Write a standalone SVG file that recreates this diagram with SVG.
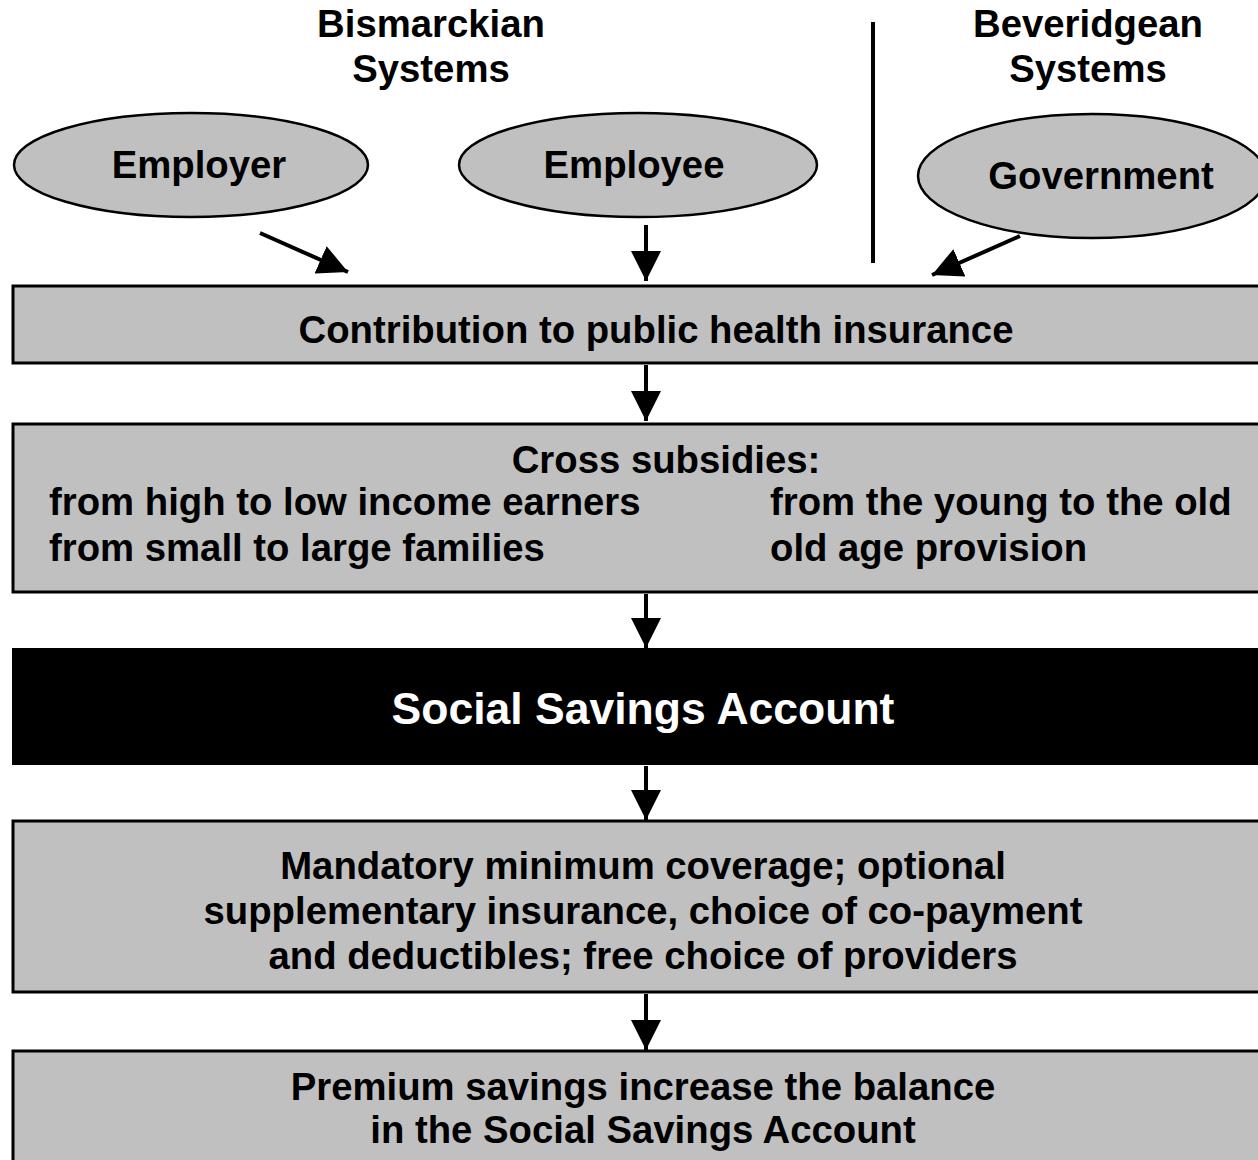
<svg xmlns="http://www.w3.org/2000/svg" width="1258" height="1160" viewBox="0 0 1258 1160">
<defs>
<style>
text{font-family:"Liberation Sans",Arial,sans-serif;font-weight:bold;font-size:38.3px;fill:#000}
.c{text-anchor:middle}
.box{fill:#c0c0c0;stroke:#000;stroke-width:3}
.ell{fill:#c0c0c0;stroke:#000;stroke-width:2.5}
.w{fill:#fff}
.ln{stroke:#000;stroke-width:4;fill:none}
</style>
<marker id="ah" viewBox="0 0 10 10" refX="10" refY="5" markerWidth="7.5" markerHeight="7.8" orient="auto" markerUnits="strokeWidth">
<path d="M0,0 L10,5 L0,10 Z" fill="#000"/>
</marker>
</defs>
<rect width="1258" height="1160" fill="#fff"/>
<g id="headers">
<text class="c" x="431" y="37">Bismarckian</text>
<text class="c" x="431" y="82">Systems</text>
<text class="c" x="1088" y="37">Beveridgean</text>
<text class="c" x="1088" y="82">Systems</text>
</g>
<g id="employer"><ellipse class="ell" cx="191" cy="165" rx="177" ry="52"/><text class="c" x="199" y="178">Employer</text></g>
<g id="employee"><ellipse class="ell" cx="638" cy="165" rx="179" ry="52"/><text class="c" x="634" y="178">Employee</text></g>
<g id="government"><ellipse class="ell" cx="1092" cy="176" rx="174" ry="62"/><text class="c" x="1101" y="189">Government</text></g>
<g id="contribution"><rect class="box" x="13" y="286" width="1260" height="77"/><text class="c" x="656" y="343">Contribution to public health insurance</text></g>
<g id="cross"><rect class="box" x="13" y="424" width="1260" height="168"/>
<text class="c" x="666" y="473">Cross subsidies:</text>
<text x="49" y="515">from high to low income earners</text>
<text x="49" y="561">from small to large families</text>
<text x="770" y="515">from the young to the old</text>
<text x="770" y="561">old age provision</text>
</g>
<g id="ssa"><rect x="12" y="648" width="1260" height="117" fill="#000"/><text class="c w" x="643" y="724" style="font-size:44.5px">Social Savings Account</text></g>
<g id="coverage"><rect class="box" x="13" y="821" width="1260" height="171"/>
<text class="c" x="643" y="879">Mandatory minimum coverage; optional</text>
<text class="c" x="643" y="924">supplementary insurance, choice of co-payment</text>
<text class="c" x="643" y="969">and deductibles; free choice of providers</text>
</g>
<g id="premium"><rect class="box" x="13" y="1051" width="1260" height="120"/>
<text class="c" x="643" y="1100">Premium savings increase the balance</text>
<text class="c" x="643" y="1143">in the Social Savings Account</text>
</g>
<g id="connectors">
<line class="ln" x1="873" y1="22" x2="873" y2="263"/>
<line class="ln" x1="260" y1="233" x2="348" y2="272" marker-end="url(#ah)"/>
<line class="ln" x1="646" y1="225" x2="646" y2="281" marker-end="url(#ah)"/>
<line class="ln" x1="1020" y1="236" x2="932" y2="275" marker-end="url(#ah)"/>
<line class="ln" x1="646" y1="365" x2="646" y2="421" marker-end="url(#ah)"/>
<line class="ln" x1="646" y1="594" x2="646" y2="648" marker-end="url(#ah)"/>
<line class="ln" x1="646" y1="766" x2="646" y2="820" marker-end="url(#ah)"/>
<line class="ln" x1="646" y1="994" x2="646" y2="1050" marker-end="url(#ah)"/>
</g>
</svg>
